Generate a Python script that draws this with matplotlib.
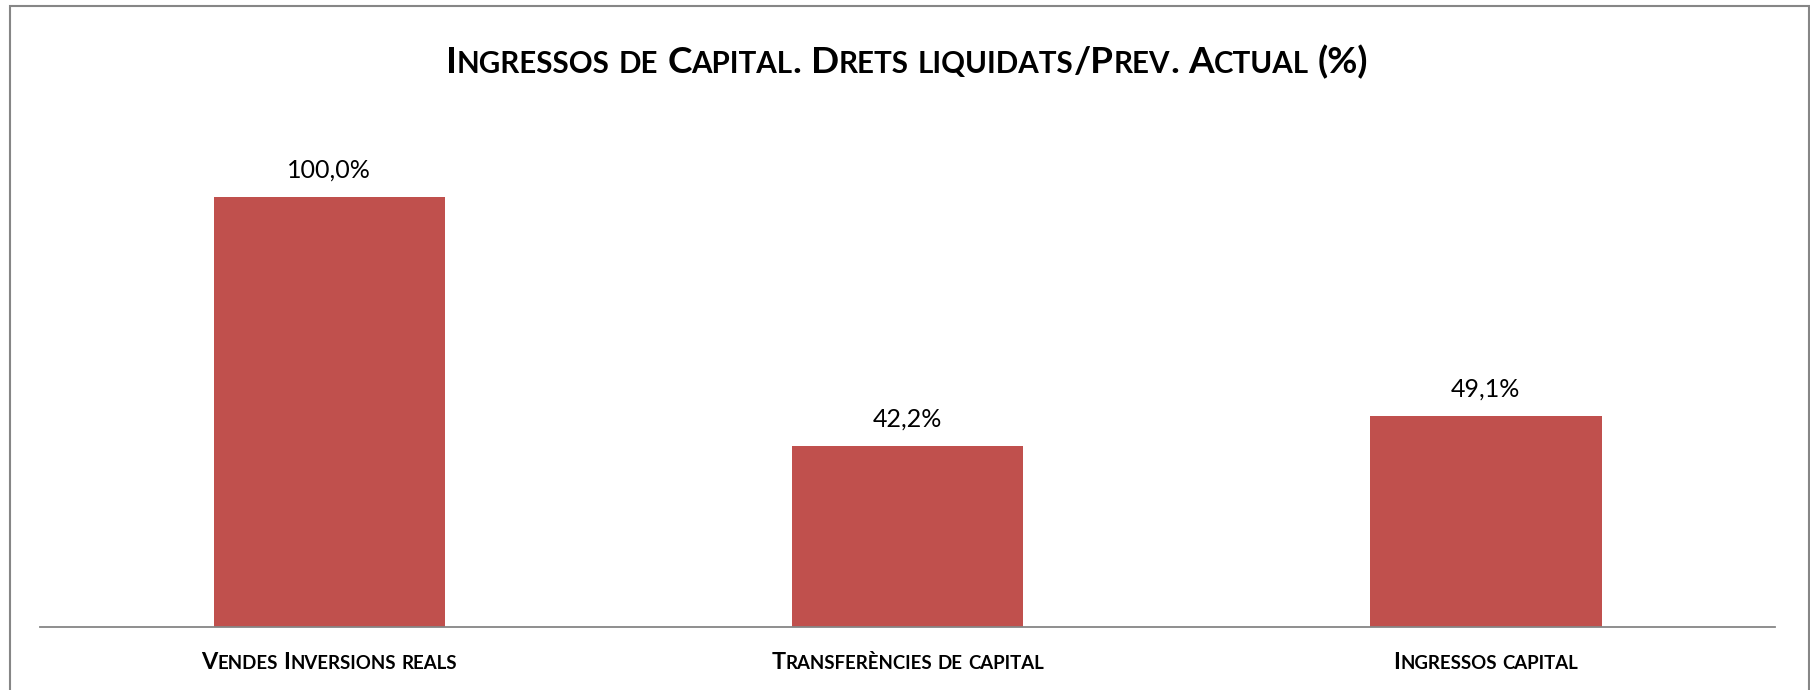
import matplotlib
matplotlib.use('Agg')
import matplotlib.pyplot as plt
from matplotlib.patches import Rectangle
from matplotlib.transforms import IdentityTransform

plt.rcParams['font.family'] = ['Lato', 'DejaVu Sans']

title = 'Ingressos de Capital. Drets liquidats/Prev. Actual (%)'
categories = ['Vendes Inversions reals', 'Transferències de capital', 'Ingressos capital']
values = [100.0, 42.2, 49.1]

bar_color = '#C0504D'
line_color = '#868686'


def small_caps(fig, xc, yb, s, size, ratio=0.8, weight='bold'):
    # fake small caps: lower case letters drawn as smaller capitals
    r = fig.canvas.get_renderer()
    ident = IdentityTransform()
    runs = []
    for wi, word in enumerate(s.split(' ')):
        if wi:
            runs.append((None, None))
        cur, cur_small = '', None
        for ch in word:
            small = ch.islower()
            if cur and small != cur_small:
                runs.append((cur.upper(), size * ratio if cur_small else size))
                cur = ''
            cur += ch
            cur_small = small
        if cur:
            runs.append((cur.upper(), size * ratio if cur_small else size))

    def width(txt, sz):
        t = fig.text(0, 0, txt, fontsize=sz, fontweight=weight, transform=ident)
        w = t.get_window_extent(r).width
        t.remove()
        return w

    space = width('I I', size) - width('II', size)
    widths = [space if t is None else width(t, sz) for t, sz in runs]
    x = xc - sum(widths) / 2
    for (t, sz), w in zip(runs, widths):
        if t is not None:
            fig.text(x, yb, t, fontsize=sz, fontweight=weight, transform=ident,
                     ha='left', va='baseline', color='black')
        x += w


fig = plt.figure(figsize=(18.1, 6.9), dpi=100)
ax = fig.add_axes([40 / 1810, 1 - 627 / 690, 1735 / 1810, 516 / 690])

x = range(len(categories))
bars = ax.bar(x, values, width=0.4, color=bar_color)
for i, v in enumerate(values):
    ax.annotate(('%.1f%%' % v).replace('.', ','), xy=(i, v), xytext=(0, 19),
                textcoords='offset pixels', ha='center', va='baseline', fontsize=18)

ax.set_xlim(-0.5, len(categories) - 0.5)
ax.set_ylim(0, 120)
ax.set_xticks([])
ax.set_yticks([])
for sp in ['top', 'right', 'left']:
    ax.spines[sp].set_visible(False)
ax.spines['bottom'].set_color(line_color)
ax.spines['bottom'].set_linewidth(1.3)

# chart border, bottom edge runs off the image
fig.patches.append(Rectangle((10, -30), 1799, 714, transform=IdentityTransform(),
                             fill=False, edgecolor=line_color, linewidth=1.5))

fig.canvas.draw()
small_caps(fig, 907, 690 - 73, title, 26.6)
for i, c in enumerate(categories):
    px = ax.transData.transform((i, 0))[0]
    small_caps(fig, px, 21, c, 16.8)

fig.savefig('out.png', dpi=100)
